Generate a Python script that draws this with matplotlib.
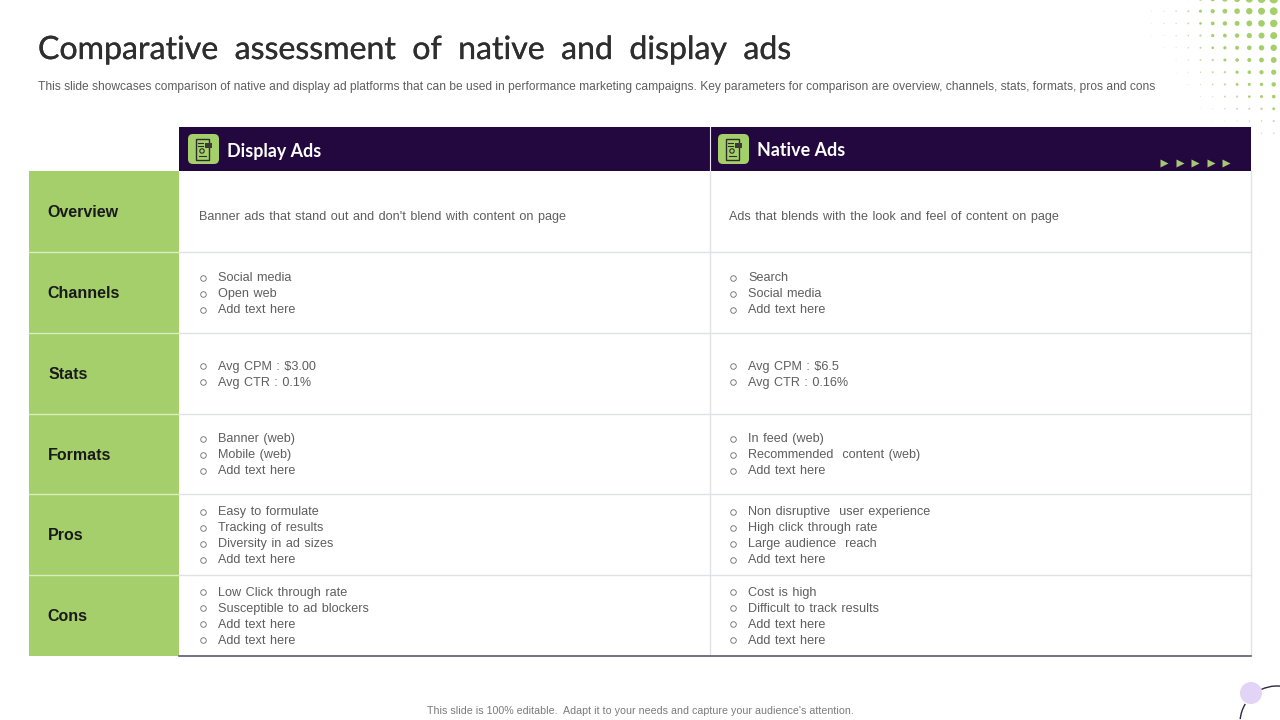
import matplotlib
matplotlib.use('Agg')
import matplotlib.pyplot as plt
import matplotlib.patheffects as pe
from matplotlib.patches import Rectangle, FancyBboxPatch, Circle, Arc

title = 'Comparative  assessment  of  native  and  display  ads'
subtitle = ('This slide showcases comparison of native and display ad platforms that can be used in performance '
            'marketing campaigns. Key parameters for comparison are overview, channels, stats, formats, pros and cons')
footer = "This slide is 100% editable.  Adapt it to your needs and capture your audience's attention."

columns = ['Display Ads', 'Native Ads']
rows = ['Overview', 'Channels', 'Stats', 'Formats', 'Pros', 'Cons']

display_ads = [
    ["Banner ads that stand out and don't blend with content on page"],
    ['Social media', 'Open web', 'Add text here'],
    ['Avg CPM : $3.00', 'Avg CTR : 0.1%'],
    ['Banner (web)', 'Mobile (web)', 'Add text here'],
    ['Easy to formulate', 'Tracking of results', 'Diversity in ad sizes', 'Add text here'],
    ['Low Click through rate', 'Susceptible to ad blockers', 'Add text here', 'Add text here'],
]
native_ads = [
    ['Ads that blends with the look and feel of content on page'],
    ['Search', 'Social media', 'Add text here'],
    ['Avg CPM : $6.5', 'Avg CTR : 0.16%'],
    ['In feed (web)', 'Recommended  content (web)', 'Add text here'],
    ['Non disruptive  user experience', 'High click through rate', 'Large audience  reach', 'Add text here'],
    ['Cost is high', 'Difficult to track results', 'Add text here', 'Add text here'],
]

# dot radii of the corner pattern, one list per row, right column first
dot_radii = [
    [4.4, 4.0, 3.6, 3.1, 2.7, 2.3, 1.7, 1.2, 0.8, 0.5, 0.3],
    [3.9, 3.5, 3.2, 2.8, 2.4, 2.1, 1.5, 1.0, 0.7, 0.5, 0.4],
    [3.7, 3.3, 2.9, 2.5, 2.2, 1.9, 1.3, 0.9, 0.6, 0.5, 0.3],
    [3.5, 3.0, 2.6, 2.2, 1.9, 1.6, 1.2, 0.8, 0.6, 0.4, 0.3],
    [3.2, 2.7, 2.3, 2.0, 1.6, 1.3, 1.0, 0.7, 0.5, 0.4, 0.0],
    [2.9, 2.4, 2.0, 1.8, 1.5, 1.2, 0.9, 0.6, 0.4, 0.0, 0.0],
    [2.6, 2.1, 1.8, 1.6, 1.2, 1.0, 0.7, 0.5, 0.3, 0.0, 0.0],
    [2.2, 1.7, 1.5, 1.4, 1.1, 0.8, 0.5, 0.4, 0.0, 0.0, 0.0],
    [1.8, 1.5, 1.3, 1.1, 0.9, 0.5, 0.4, 0.0, 0.0, 0.0, 0.0],
    [1.4, 1.2, 1.0, 0.9, 0.7, 0.4, 0.3, 0.0, 0.0, 0.0, 0.0],
    [1.0, 0.8, 0.7, 0.5, 0.4, 0.3, 0.0, 0.0, 0.0, 0.0, 0.0],
    [0.7, 0.6, 0.5, 0.4, 0.3, 0.0, 0.0, 0.0, 0.0, 0.0, 0.0],
]

GREEN = '#a5cf6b'
PURPLE = '#22083f'
GREY = '#5e5e5e'
LINE = '#e0e2e5'
BODY_FONT = 'Liberation Sans'

fig = plt.figure(figsize=(12.8, 7.2), dpi=100, facecolor='white')
ax = fig.add_axes([0, 0, 1, 1])
ax.set_xlim(0, 1280)
ax.set_ylim(720, 0)
ax.axis('off')

# corner dots
for i, radii in enumerate(dot_radii):
    for j, r in enumerate(radii):
        if r > 0:
            ax.add_patch(Circle((1273.7 - j * 12.2, -1 + i * 12.2), r, color=GREEN if r > 1.2 else '#c6d6ae', lw=0))

ax.text(38, 50, title, fontsize=23.1, family='Lato', color='#2e2e2e', va='center', ha='left',
        path_effects=[pe.withStroke(linewidth=0.2, foreground='#2e2e2e')])
ax.text(38, 87, subtitle, fontsize=8.65, family=BODY_FONT, color=GREY, va='center', ha='left')

# table frame
col_x = [179, 710, 1251]
row_y = [171, 252, 333, 413.5, 494, 575, 655.5]
ax.add_patch(Rectangle((179, 127), 1072, 44, color=PURPLE, lw=0))
ax.add_patch(Rectangle((29, 171), 150, 484.5, color=GREEN, lw=0))
ax.plot([710, 710], [127, 171], color='#e8e6ee', lw=0.8)
ax.plot([710, 710], [171, 655], color=LINE, lw=1)
ax.plot([1251, 1251], [171, 655], color=LINE, lw=1)
for y in row_y[1:-1]:
    ax.plot([179, 1251], [y, y], color=LINE, lw=1)
    ax.plot([29, 179], [y, y], color='#d7eebd', lw=1)
ax.plot([179, 1251], [655.5, 655.5], color='#4d4a6b', lw=1.1)

# header cells
for x0, name in zip(col_x[:2], columns):
    box_x = x0 + 9 if x0 == 179 else x0 + 8
    ax.add_patch(FancyBboxPatch((box_x + 4, 138), 23, 22, boxstyle='round,pad=4,rounding_size=5', color=GREEN, lw=0))
    # small device icon
    ax.add_patch(Rectangle((box_x + 8, 139), 13, 21, fc='none', ec='#2c2c2c', lw=1))
    ax.plot([box_x + 10, box_x + 15], [143, 143], color='#2c2c2c', lw=0.8)
    ax.plot([box_x + 10, box_x + 15], [146, 146], color='#2c2c2c', lw=0.8)
    ax.add_patch(Circle((box_x + 14, 151), 2.2, fc='none', ec='#2c2c2c', lw=0.8))
    ax.add_patch(Rectangle((box_x + 17, 143), 7, 5, fc='#3a3a3a', lw=0))
    ax.plot([box_x + 11, box_x + 18], [156, 156], color='#2c2c2c', lw=0.8)
    ax.text(box_x + 39, 151, name, fontsize=12.9, family='Lato', weight='bold', color='white', va='center', ha='left')

for x in [1164, 1179.5, 1195, 1210.5, 1226]:
    ax.plot(x, 163, marker='>', ms=6, color='#a5c870', mec='none')

# row labels and cell text
for i, name in enumerate(rows):
    yc = (row_y[i] + row_y[i + 1]) / 2
    ax.text(48.5 if name == 'Stats' else 47.6, yc + 5.9, name, fontsize=11.5, family=BODY_FONT, weight='bold',
            color='#1a1a1a', va='baseline', ha='left')
    for x0, cells in zip([179, 709], [display_ads, native_ads]):
        lines = cells[i]
        if len(lines) == 1:
            ax.text(x0 + 20, 220, lines[0].replace(' ', ' \u200a'), fontsize=9.05, family=BODY_FONT, color=GREY,
                    va='baseline', ha='left')
            continue
        top = yc - (len(lines) - 1) * 8
        for k, line in enumerate(lines):
            y = top + k * 16
            ax.plot(x0 + 24, y + 1, marker='o', ms=4, mfc='white', mec='#6a6a6a', mew=0.6)
            # the slide has slightly wider word gaps than the font
            ax.text(x0 + 39, y + 4.5, line.replace(' ', ' \u200a'), fontsize=9.05, family=BODY_FONT, color=GREY,
                    va='baseline', ha='left')

ax.text(640.5, 710.5, footer, fontsize=7.62, family=BODY_FONT, color='#7b7b7b', va='center', ha='center')

# corner circle and arc
ax.add_patch(Arc((1277, 723), 74, 74, theta1=186, theta2=211, color='#2b2740', lw=1))
ax.add_patch(Arc((1277, 723), 74, 74, theta1=245, theta2=290, color='#2b2740', lw=1))
ax.add_patch(Circle((1251, 693), 11, color='#e2d4f7', lw=0))

fig.savefig('out.png', dpi=100)
plt.close()
